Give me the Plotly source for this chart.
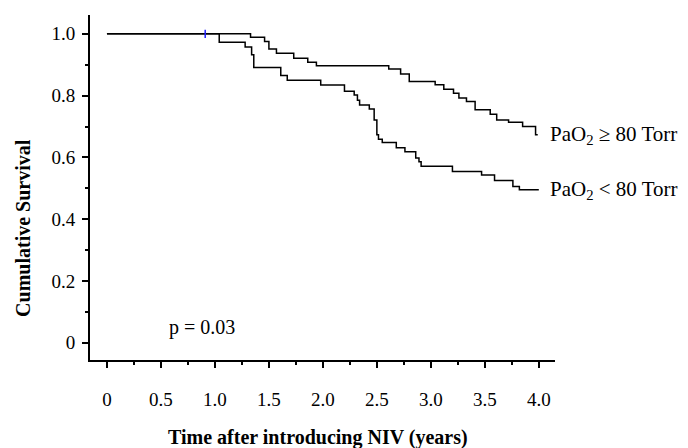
import plotly.graph_objects as go

# Kaplan-Meier step data (time in years, cumulative survival)
t_high = [0, 1.33, 1.46, 1.50, 1.57, 1.73, 1.86, 1.94, 2.61, 2.72, 2.80, 3.04, 3.12,
          3.21, 3.26, 3.33, 3.41, 3.55, 3.61, 3.72, 3.85, 3.97, 3.99]
s_high = [1.0, 0.989, 0.975, 0.951, 0.937, 0.921, 0.908, 0.897, 0.886, 0.870, 0.846,
          0.835, 0.821, 0.808, 0.792, 0.781, 0.754, 0.740, 0.721, 0.714, 0.700, 0.673, 0.673]

t_low = [0, 1.04, 1.28, 1.34, 1.36, 1.61, 1.67, 1.98, 2.20, 2.29, 2.32, 2.34, 2.43,
         2.475, 2.50, 2.515, 2.55, 2.68, 2.76, 2.86, 2.89, 2.91, 3.20, 3.47, 3.59,
         3.76, 3.82, 4.00]
s_low = [1.0, 0.973, 0.957, 0.932, 0.891, 0.865, 0.850, 0.834, 0.814, 0.802, 0.785,
         0.770, 0.757, 0.721, 0.673, 0.659, 0.648, 0.631, 0.618, 0.598, 0.586, 0.571,
         0.554, 0.543, 0.525, 0.506, 0.495, 0.495]

censor_t = [0.91]
censor_s = [1.0]

label_high = "PaO<sub>2</sub> ≥ 80 Torr"
label_low = "PaO<sub>2</sub> < 80 Torr"
p_text = "p = 0.03"

x_tickvals = [0, 0.5, 1.0, 1.5, 2.0, 2.5, 3.0, 3.5, 4.0]
x_ticktext = ["0", "0.5", "1.0", "1.5", "2.0", "2.5", "3.0", "3.5", "4.0"]
y_tickvals = [0, 0.2, 0.4, 0.6, 0.8, 1.0]
y_ticktext = ["0", "0.2", "0.4", "0.6", "0.8", "1.0"]

FONT = "Liberation Serif, Times New Roman, serif"

fig = go.Figure()
fig.add_trace(go.Scatter(x=t_high, y=s_high, mode="lines", line_shape="hv",
                         line=dict(color="black", width=1.5), showlegend=False,
                         hoverinfo="skip"))
fig.add_trace(go.Scatter(x=t_low, y=s_low, mode="lines", line_shape="hv",
                         line=dict(color="black", width=1.5), showlegend=False,
                         hoverinfo="skip"))
fig.add_trace(go.Scatter(x=censor_t, y=censor_s, mode="markers",
                         marker=dict(symbol="line-ns", size=6,
                                     line=dict(color="#2020ff", width=1.5)),
                         showlegend=False, hoverinfo="skip"))

fig.add_annotation(x=t_high[-1], y=s_high[-1], text=label_high, showarrow=False,
                   xanchor="left", yanchor="middle", xshift=10,
                   font=dict(family=FONT, size=21, color="black"))
fig.add_annotation(x=t_low[-1], y=s_low[-1], text=label_low, showarrow=False,
                   xanchor="left", yanchor="middle", xshift=9,
                   font=dict(family=FONT, size=21, color="black"))
fig.add_annotation(x=0.56, y=0.05, text=p_text, showarrow=False,
                   xanchor="left", yanchor="middle",
                   font=dict(family=FONT, size=20, color="black"))

fig.add_annotation(xref="paper", yref="paper", x=-0.144, y=0.383,
                   text="<b>Cumulative Survival</b>", textangle=-90, showarrow=False,
                   xanchor="center", yanchor="middle",
                   font=dict(family=FONT, size=20, color="black"))
fig.add_annotation(xref="paper", yref="paper", x=0.49, y=-0.225,
                   text="<b>Time after introducing NIV (years)</b>", showarrow=False,
                   xanchor="center", yanchor="middle",
                   font=dict(family=FONT, size=20, color="black"))

fig.update_xaxes(range=[-0.157, 4.15], showgrid=False, zeroline=False,
                 showline=True, linecolor="black", linewidth=2,
                 ticks="outside", ticklen=6, tickwidth=1.5, tickcolor="black",
                 tickvals=x_tickvals, ticktext=x_ticktext,
                 ticklabelstandoff=15,
                 tickfont=dict(family=FONT, size=19, color="black"),
                 minor=dict(dtick=0.25, tick0=0, ticks="outside", ticklen=3,
                            tickwidth=1.5, tickcolor="black"))
fig.update_yaxes(range=[-0.056, 1.061], showgrid=False, zeroline=False,
                 showline=True, linecolor="black", linewidth=2,
                 ticks="outside", ticklen=6, tickwidth=1.5, tickcolor="black",
                 tickvals=y_tickvals, ticktext=y_ticktext,
                 ticklabelstandoff=3,
                 tickfont=dict(family=FONT, size=19, color="black"),
                 minor=dict(dtick=0.1, tick0=0, ticks="outside", ticklen=3,
                            tickwidth=1.5, tickcolor="black"))

fig.update_layout(width=688, height=448, margin=dict(l=90, r=133, t=15, b=88),
                  plot_bgcolor="white", paper_bgcolor="white",
                  font=dict(family=FONT, color="black"))

fig.write_html("out.html")
